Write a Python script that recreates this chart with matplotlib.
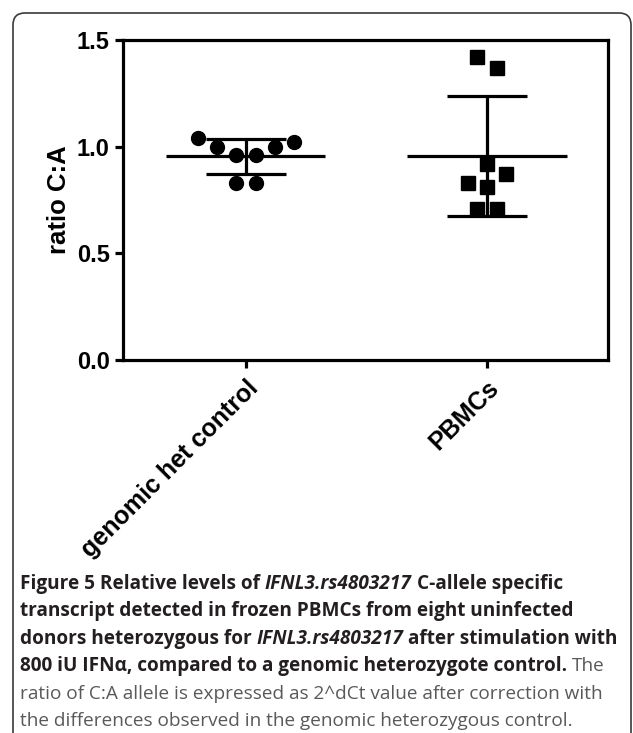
import numpy as np
import matplotlib
matplotlib.use('Agg')
import matplotlib.pyplot as plt
from matplotlib.patches import FancyBboxPatch
from matplotlib.transforms import IdentityTransform, ScaledTranslation

# values (ratio C:A)
categories = ['genomic het control', 'PBMCs']
control_vals = [1.04, 1.00, 0.96, 0.96, 1.00, 1.02, 0.83, 0.83]
pbmc_vals = [1.42, 1.37, 0.92, 0.87, 0.83, 0.81, 0.71, 0.71]
yticks = [0.0, 0.5, 1.0, 1.5]

caption = [
    [('Figure 5 Relative levels of ', 'b'), ('IFNL3.rs4803217', 'i'), (' C-allele specific', 'b')],
    [('transcript detected in frozen PBMCs from eight uninfected', 'b')],
    [('donors heterozygous for ', 'b'), ('IFNL3.rs4803217', 'i'), (' after stimulation with', 'b')],
    [('800 iU IFN\u03b1, compared to a genomic heterozygote control.', 'b'), (' The', 'n')],
    [('ratio of C:A allele is expressed as 2^dCt value after correction with', 'n')],
    [('the differences observed in the genomic heterozygous control.', 'n')],
]

W, H = 633, 733
fig = plt.figure(figsize=(W / 100, H / 100), dpi=100)
fig.patch.set_facecolor('white')

# rounded frame around the figure panel (pixels)
frame = FancyBboxPatch((13, -40), 618, 733 - 13 + 40,
                       boxstyle='round,pad=0,rounding_size=12',
                       transform=IdentityTransform(), fill=False,
                       edgecolor='#3a3a3a', linewidth=1.2)
fig.patches.append(frame)

ax = fig.add_axes([123 / W, 1 - 360 / H, (608 - 123) / W, (360 - 40) / H])

chart_font = ['Liberation Sans', 'DejaVu Sans']
lw = 2.3

jitter = {0: [-0.20, -0.12, -0.04, 0.04, 0.12, 0.20, -0.04, 0.04],
          1: [-0.04, 0.04, 0.0, 0.08, -0.08, 0.0, -0.04, 0.04]}
markers = {0: 'o', 1: 's'}

for i, vals in enumerate([control_vals, pbmc_vals]):
    vals = np.asarray(vals)
    m = vals.mean()
    sd = vals.std(ddof=1)
    xs = i + np.asarray(jitter[i])
    ax.plot(xs, vals, linestyle='none', marker=markers[i], markersize=10,
            color='black', zorder=3)
    ax.hlines(m, i - 0.33, i + 0.33, color='black', linewidth=lw, zorder=4)
    ax.hlines([m - sd, m + sd], i - 0.166, i + 0.166, color='black', linewidth=lw, zorder=4)
    ax.vlines(i, m - sd, m + sd, color='black', linewidth=lw, zorder=4)

ax.set_xlim(-0.51, 1.502)
ax.set_ylim(0, 1.5)
ax.set_yticks(yticks)
ax.set_yticklabels([f'{v:.1f}' for v in yticks], fontfamily=chart_font,
                   fontweight='bold', fontsize=17)
ax.set_xticks(range(len(categories)))
ax.set_xticklabels(categories, rotation=45, ha='right', va='top',
                   rotation_mode='anchor', fontfamily=chart_font,
                   fontweight='bold', fontsize=18)
shift = ScaledTranslation(-4 / 100, 0, fig.dpi_scale_trans)
for lab in ax.get_xticklabels():
    lab.set_transform(lab.get_transform() + shift)
ax.set_ylabel('ratio C:A', fontfamily=chart_font, fontweight='bold',
              fontsize=18.5, labelpad=4)
for s in ax.spines.values():
    s.set_linewidth(lw)
ax.tick_params(axis='both', width=lw, length=5.5, pad=4, colors='black')
ax.tick_params(axis='x', pad=6)

# caption, drawn run by run so bold / italic / regular can share a line
cap_font = ['Open Sans', 'DejaVu Sans']
cap_size = 13.7
styles = {'b': dict(fontweight='bold', fontstyle='normal', color='#231f20'),
          'i': dict(fontweight='bold', fontstyle='italic', color='#231f20'),
          'n': dict(fontweight='normal', fontstyle='normal', color='#58595b')}

fig.canvas.draw()
r = fig.canvas.get_renderer()


def text_width(s, st):
    t = fig.text(0, 0, s, fontsize=cap_size, family=cap_font, **styles[st])
    w = t.get_window_extent(r).width
    t.remove()
    return w


x0 = 20
baseline = 589
step = 27.4
for line in caption:
    x = x0
    for s, st in line:
        space = text_width('x x', st) - text_width('xx', st)
        lead = len(s) - len(s.lstrip(' '))
        trail = len(s) - len(s.rstrip(' '))
        x += lead * space
        core = s.strip(' ')
        t = fig.text(x / W, 1 - baseline / H, core, fontsize=cap_size,
                     family=cap_font, va='baseline', ha='left', **styles[st])
        x += t.get_window_extent(r).width + trail * space
    baseline += step

fig.savefig('out.png', dpi=100)
